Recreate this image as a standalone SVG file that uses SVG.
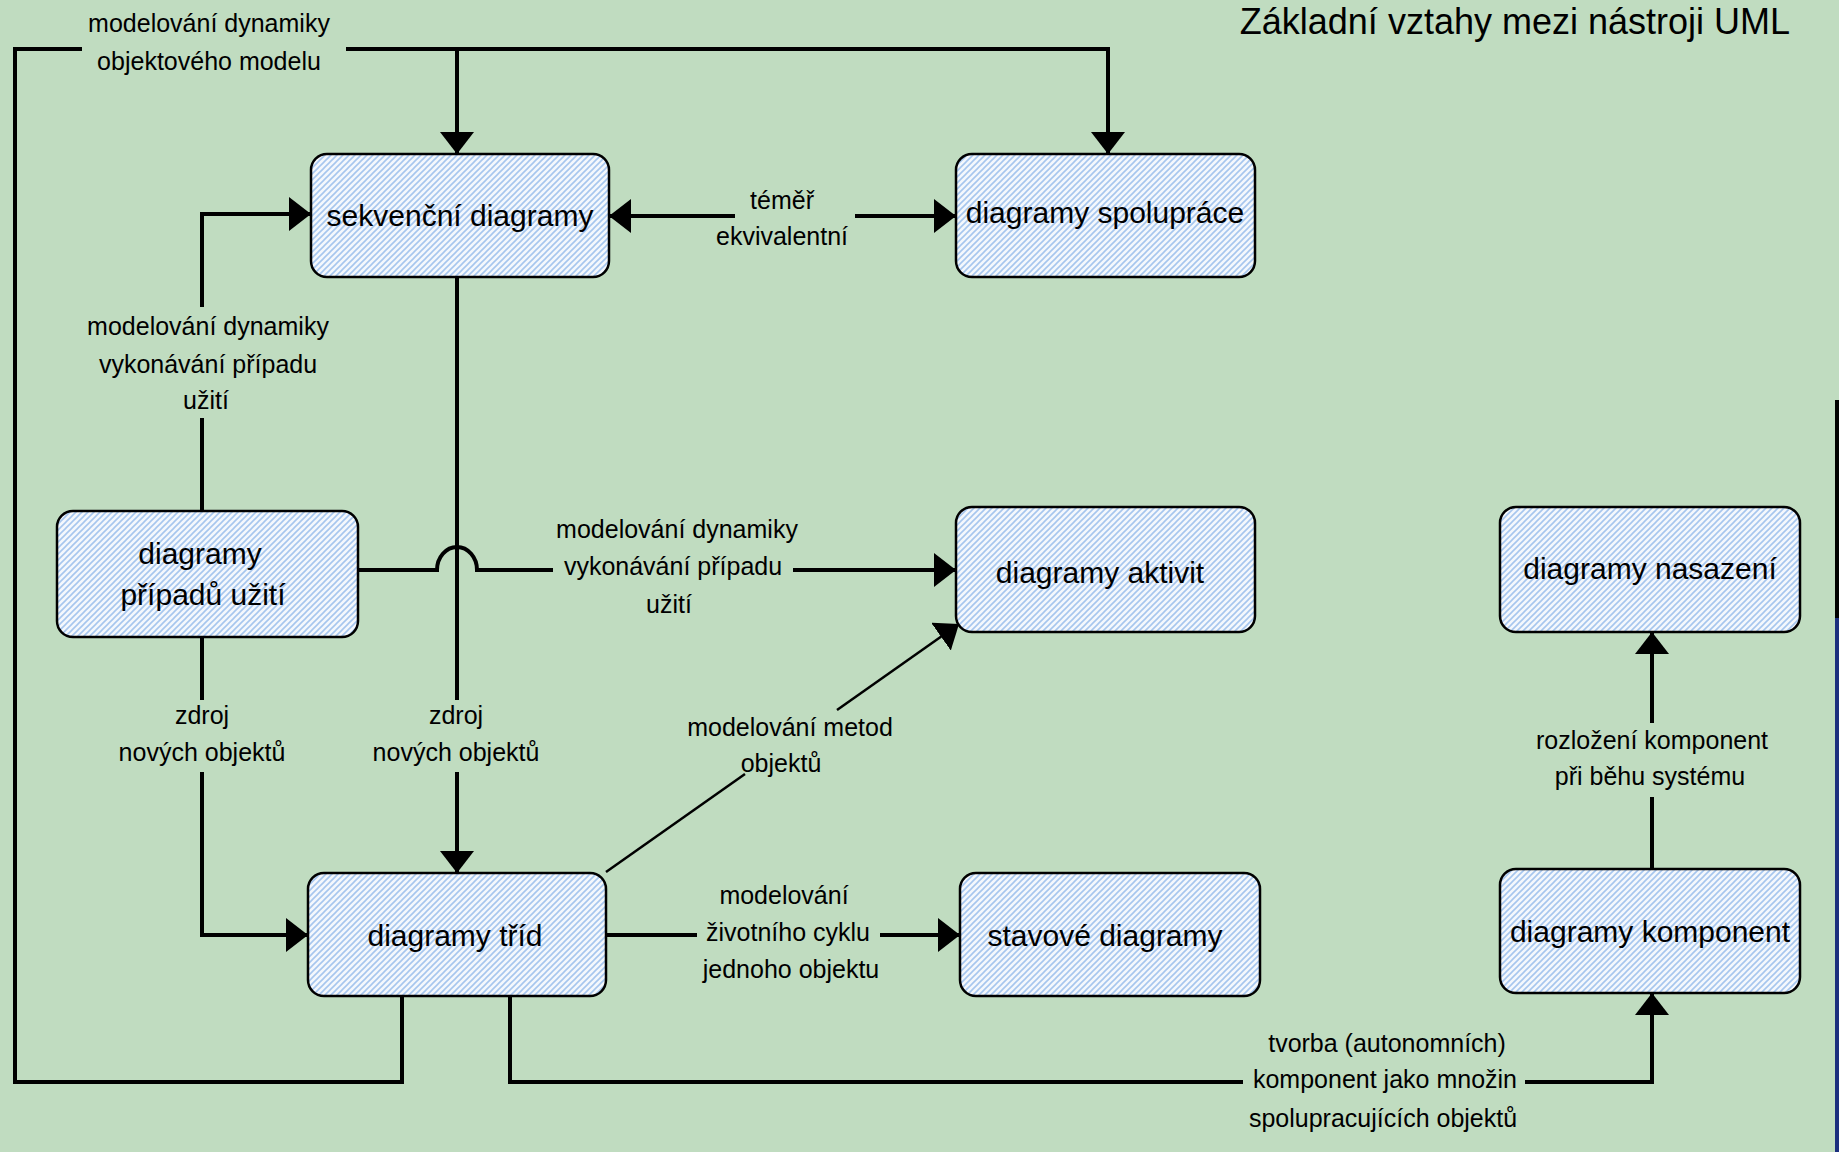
<svg xmlns="http://www.w3.org/2000/svg" width="1839" height="1152" viewBox="0 0 1839 1152">
<style>
  .box { fill: url(#hatch); stroke: #000; stroke-width: 2.5; }
  .ntext { font-family: "Liberation Sans", Arial, sans-serif; font-size: 30px; fill: #000; text-anchor: middle; }
  .lbl { font-family: "Liberation Sans", Arial, sans-serif; font-size: 25px; fill: #000; text-anchor: middle; }
  .title { font-family: "Liberation Sans", Arial, sans-serif; font-size: 36px; fill: #000; text-anchor: end; }
  .wire { fill: none; stroke: #000; stroke-width: 4; stroke-linejoin: miter; }
  .thin { fill: none; stroke: #000; stroke-width: 2.5; }
</style>
<defs>
  <pattern id="hatch" width="6" height="6" patternUnits="userSpaceOnUse">
    <rect width="6" height="6" fill="#f4f8fd"/>
    <path d="M-1,1 L1,-1 M0,6 L6,0 M5,7 L7,5" stroke="#a6c6ee" stroke-width="1.6"/>
  </pattern>
  <marker id="arr" viewBox="0 0 22 34" refX="22" refY="17" markerWidth="22" markerHeight="34" markerUnits="userSpaceOnUse" orient="auto-start-reverse">
    <path d="M0,0 L22,17 L0,34 Z" fill="#000"/>
  </marker>
</defs>
<rect width="1839" height="1152" fill="#c0dcc0"/>
<rect x="1835" y="400" width="4" height="218" fill="#000"/>
<rect x="1835" y="618" width="4" height="534" fill="#1b2f7e"/>

<text class="title" x="1790" y="34">Základní vztahy mezi nástroji UML</text>

<g id="connectors">
  <!-- loop from class diagram to top -->
  <path class="wire" d="M402,996 V1082 H15 V49 H82"/>
  <path class="wire" d="M346,49 H1108 V154" marker-end="url(#arr)"/>
  <path class="wire" d="M457,49 V154" marker-end="url(#arr)"/>
  <text class="lbl" x="209" y="32">modelování dynamiky</text>
  <text class="lbl" x="209" y="70">objektového modelu</text>

  <!-- sequence <-> collaboration -->
  <path class="wire" d="M609,216 H735" marker-start="url(#arr)"/>
  <path class="wire" d="M855,216 H956" marker-end="url(#arr)"/>
  <text class="lbl" x="782" y="209">téměř</text>
  <text class="lbl" x="782" y="245">ekvivalentní</text>

  <!-- use case -> sequence -->
  <path class="wire" d="M202,511 V418"/>
  <path class="wire" d="M202,307 V214 H311" marker-end="url(#arr)"/>
  <text class="lbl" x="208" y="335">modelování dynamiky</text>
  <text class="lbl" x="208" y="373">vykonávání případu</text>
  <text class="lbl" x="206" y="409">užití</text>

  <!-- sequence -> class -->
  <path class="wire" d="M457,277 V700"/>
  <path class="wire" d="M457,772 V873" marker-end="url(#arr)"/>
  <text class="lbl" x="456" y="724">zdroj</text>
  <text class="lbl" x="456" y="761">nových objektů</text>

  <!-- use case -> class -->
  <path class="wire" d="M202,637 V700"/>
  <path class="wire" d="M202,772 V935 H308" marker-end="url(#arr)"/>
  <text class="lbl" x="202" y="724">zdroj</text>
  <text class="lbl" x="202" y="761">nových objektů</text>

  <!-- use case -> activity (with hop) -->
  <path class="wire" d="M358,570 H437 A20,23 0 0 1 477,570 H553"/>
  <path class="wire" d="M793,570 H956" marker-end="url(#arr)"/>
  <text class="lbl" x="677" y="538">modelování dynamiky</text>
  <text class="lbl" x="673" y="575">vykonávání případu</text>
  <text class="lbl" x="669" y="613">užití</text>

  <!-- class -> activity diagonal -->
  <path class="thin" d="M606,872 L745,774"/>
  <path class="thin" d="M837,710 L959,624" marker-end="url(#arr)"/>
  <text class="lbl" x="790" y="736">modelování metod</text>
  <text class="lbl" x="781" y="772">objektů</text>

  <!-- class -> state -->
  <path class="wire" d="M606,935 H697"/>
  <path class="wire" d="M880,935 H960" marker-end="url(#arr)"/>
  <text class="lbl" x="784" y="904">modelování</text>
  <text class="lbl" x="788" y="941">životního cyklu</text>
  <text class="lbl" x="791" y="978">jednoho objektu</text>

  <!-- class -> component -->
  <path class="wire" d="M510,996 V1082 H1243"/>
  <path class="wire" d="M1525,1082 H1652 V993" marker-end="url(#arr)"/>
  <text class="lbl" x="1387" y="1052">tvorba (autonomních)</text>
  <text class="lbl" x="1385" y="1088">komponent jako množin</text>
  <text class="lbl" x="1383" y="1127">spolupracujících objektů</text>

  <!-- component -> deployment -->
  <path class="wire" d="M1652,869 V797"/>
  <path class="wire" d="M1652,723 V632" marker-end="url(#arr)"/>
  <text class="lbl" x="1652" y="749">rozložení komponent</text>
  <text class="lbl" x="1650" y="785">při běhu systému</text>
</g>

<g id="node-sekvencni">
  <rect class="box" x="311" y="154" width="298" height="123" rx="16"/>
  <text class="ntext" x="460" y="226">sekvenční diagramy</text>
</g>
<g id="node-spoluprace">
  <rect class="box" x="956" y="154" width="299" height="123" rx="16"/>
  <text class="ntext" x="1105" y="223">diagramy spolupráce</text>
</g>
<g id="node-pripady">
  <rect class="box" x="57" y="511" width="301" height="126" rx="16"/>
  <text class="ntext" x="200" y="564">diagramy</text>
  <text class="ntext" x="203" y="605">případů užití</text>
</g>
<g id="node-aktivit">
  <rect class="box" x="956" y="507" width="299" height="125" rx="16"/>
  <text class="ntext" x="1100" y="583">diagramy aktivit</text>
</g>
<g id="node-nasazeni">
  <rect class="box" x="1500" y="507" width="300" height="125" rx="16"/>
  <text class="ntext" x="1650" y="579">diagramy nasazení</text>
</g>
<g id="node-trid">
  <rect class="box" x="308" y="873" width="298" height="123" rx="16"/>
  <text class="ntext" x="455" y="946">diagramy tříd</text>
</g>
<g id="node-stavove">
  <rect class="box" x="960" y="873" width="300" height="123" rx="16"/>
  <text class="ntext" x="1105" y="946">stavové diagramy</text>
</g>
<g id="node-komponent">
  <rect class="box" x="1500" y="869" width="300" height="124" rx="16"/>
  <text class="ntext" x="1650" y="942">diagramy komponent</text>
</g>
</svg>
